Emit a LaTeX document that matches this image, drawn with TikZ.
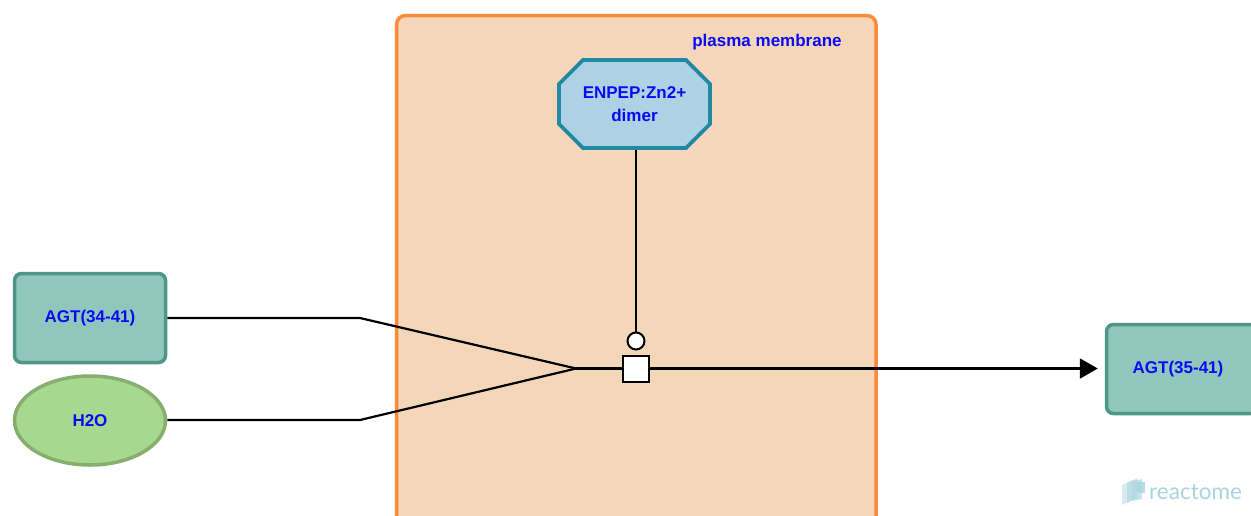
\documentclass[tikz,border=0pt]{standalone}
\usepackage{fontspec}
\setmainfont{Liberation Sans}
\newfontfamily\logofont{Lato}
\usetikzlibrary{shapes.misc,shapes.geometric,arrows.meta}
\definecolor{compfill}{HTML}{F4D6B9}
\definecolor{compdraw}{HTML}{FD8A3C}
\definecolor{cplxfill}{HTML}{ADD2E4}
\definecolor{cplxdraw}{HTML}{2387A6}
\definecolor{protfill}{HTML}{8FC7BC}
\definecolor{protdraw}{HTML}{4E9687}
\definecolor{chemfill}{HTML}{A7D88F}
\definecolor{chemdraw}{HTML}{86AE6F}
\definecolor{lbl}{HTML}{0A0AF5}
\definecolor{logoc}{HTML}{A9D4E2}
\tikzset{
  lbltext/.style={text=lbl,font=\fontsize{17}{20}\selectfont\bfseries,align=center},
  protein/.style={lbltext,rectangle,rounded corners=7pt,draw=protdraw,fill=protfill,line width=3.5pt,minimum width=151pt,minimum height=89pt,inner sep=0pt},
  chemical/.style={lbltext,ellipse,draw=chemdraw,fill=chemfill,line width=3.5pt,minimum width=151pt,minimum height=89pt,inner sep=0pt},
  complexbox/.style={lbltext,chamfered rectangle,chamfered rectangle xsep=12pt,chamfered rectangle ysep=12pt,draw=cplxdraw,fill=cplxfill,line width=3.8pt,minimum width=151pt,minimum height=88pt,inner sep=0pt},
  edge/.style={draw=black,line width=2.2pt},
  procnode/.style={rectangle,draw=black,fill=white,line width=2pt,minimum size=26pt,inner sep=0pt},
  catnode/.style={circle,draw=black,fill=white,line width=2pt,minimum size=17pt,inner sep=0pt},
}
\begin{document}
\begin{tikzpicture}[x=1pt,y=-1pt]
\useasboundingbox (0,0) rectangle (1251,515);
\clip (0,0) rectangle (1251,515);
\fill[white] (0,0) rectangle (1251,515);
% compartment
\draw[draw=compdraw,fill=compfill,line width=3.5pt,rounded corners=9pt] (396.5,15.5) rectangle (876,540);
\node[lbltext,anchor=center] (pm) at (767,42) {plasma membrane};
% entities
\node[complexbox] (enpep) at (634.5,104) {\raisebox{0pt}{}ENPEP:Zn2+\\[3pt]dimer};
\node[protein] (agtin) at (90,318) {AGT(34-41)};
\node[chemical] (h2o) at (90,420.5) {H2O};
\node[protein,text width=140pt] (agtout) at (1182,369) {\hspace*{-8pt}AGT(35-41)};
% reaction
\coordinate (join) at (576,368.5);
\coordinate (ka) at (360,318);
\coordinate (kb) at (360,420);
\node[procnode] (proc) at (636,368.5) {};
\node[catnode] (cat) at (636,341) {};
\draw[edge] (agtin.east |- 0,318) -- (ka) -- (join);
\draw[edge] (h2o.east |- 0,420) -- (kb) -- (join);
\draw[edge] (join) -- (proc.west);
\draw[edge,-{Triangle[length=18pt,width=20pt]},shorten >=7pt] (proc.east) -- (agtout.west |- proc.east);
\draw[edge] (cat.north) -- (cat.north |- enpep.south);
% logo
\begin{scope}[fill=logoc]
\fill[opacity=0.45] (1122,485) -- (1132,480) -- (1132,500) -- (1122,505) -- cycle;
\fill[opacity=0.55] (1127,483) -- (1137,478) -- (1137,498) -- (1127,503) -- cycle;
\fill[opacity=0.65] (1132,481) -- (1142,479) -- (1142,499) -- (1132,501) -- cycle;
\fill[opacity=0.8] (1137,482) -- (1145,482) -- (1145,493) -- (1137,493) -- cycle;
\end{scope}
\node[text=logoc,font=\logofont\fontsize{22.5}{24}\selectfont,anchor=west,inner sep=0pt] (logo) at (1149,492) {reactome};
\end{tikzpicture}
\end{document}
